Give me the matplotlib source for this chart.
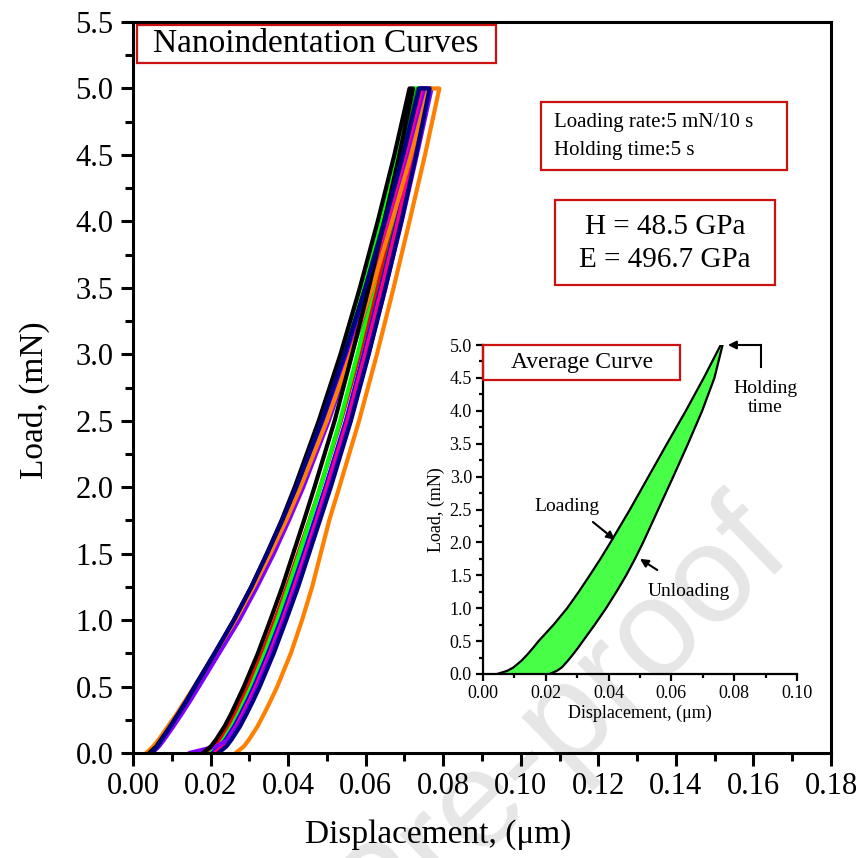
import matplotlib
matplotlib.use("Agg")
import matplotlib.pyplot as plt
from matplotlib.patches import Rectangle
from matplotlib.ticker import MultipleLocator, FormatStrFormatter

plt.rcParams["font.family"] = ["Liberation Serif", "DejaVu Serif"]

# Load levels (mN) at which displacements (um) were recorded
load_levels = [0.0, 0.05, 0.1, 0.2, 0.3, 0.4, 0.5, 0.75, 1.0, 1.25, 1.5,
               1.75, 2.0, 2.5, 3.0, 3.5, 4.0, 4.5, 5.0]

# Individual indents: loading branch and unloading branch at the same load
# levels; the top unloading value is the depth reached after the 5 s hold.
indent_colors = ["#ff0000", "#00ff00", "#008000", "#0000ff", "#ff0080",
                 "#8000ff", "#ff8000", "#000000", "#000080"]

loading_red = [0.0040, 0.0058, 0.0071, 0.0095, 0.0118, 0.0140, 0.0161, 0.0213, 0.0264, 0.0311,
               0.0353, 0.0392, 0.0428, 0.0493, 0.0551, 0.0604, 0.0654, 0.0700, 0.0742]
unloading_red = [0.0190, 0.0211, 0.0224, 0.0246, 0.0264, 0.0281, 0.0297, 0.0333, 0.0366, 0.0397,
                 0.0426, 0.0455, 0.0483, 0.0536, 0.0584, 0.0629, 0.0672, 0.0713, 0.0750]

loading_lime = [0.0040, 0.0058, 0.0071, 0.0094, 0.0117, 0.0139, 0.0159, 0.0211, 0.0261, 0.0306,
                0.0347, 0.0386, 0.0421, 0.0484, 0.0541, 0.0592, 0.0640, 0.0684, 0.0725]
unloading_lime = [0.0200, 0.0221, 0.0234, 0.0255, 0.0273, 0.0289, 0.0305, 0.0340, 0.0372, 0.0401,
                  0.0429, 0.0456, 0.0483, 0.0534, 0.0579, 0.0620, 0.0660, 0.0698, 0.0733]

loading_green = [0.0041, 0.0059, 0.0072, 0.0096, 0.0119, 0.0141, 0.0162, 0.0213, 0.0264, 0.0310,
                 0.0351, 0.0390, 0.0425, 0.0490, 0.0547, 0.0599, 0.0647, 0.0693, 0.0735]
unloading_green = [0.0215, 0.0236, 0.0249, 0.0271, 0.0289, 0.0305, 0.0321, 0.0356, 0.0388, 0.0418,
                   0.0446, 0.0473, 0.0500, 0.0551, 0.0596, 0.0638, 0.0678, 0.0713, 0.0745]

loading_blue = [0.0040, 0.0058, 0.0071, 0.0095, 0.0118, 0.0141, 0.0162, 0.0214, 0.0266, 0.0312,
                0.0354, 0.0394, 0.0430, 0.0496, 0.0555, 0.0609, 0.0658, 0.0705, 0.0748]
unloading_blue = [0.0205, 0.0226, 0.0239, 0.0261, 0.0279, 0.0296, 0.0312, 0.0348, 0.0381, 0.0411,
                  0.0440, 0.0468, 0.0496, 0.0549, 0.0595, 0.0639, 0.0681, 0.0720, 0.0757]

loading_pink = [0.0046, 0.0064, 0.0077, 0.0101, 0.0124, 0.0146, 0.0167, 0.0220, 0.0271, 0.0317,
                0.0360, 0.0399, 0.0435, 0.0500, 0.0559, 0.0612, 0.0661, 0.0708, 0.0750]
unloading_pink = [0.0210, 0.0231, 0.0244, 0.0266, 0.0284, 0.0301, 0.0317, 0.0353, 0.0386, 0.0416,
                  0.0445, 0.0473, 0.0500, 0.0553, 0.0599, 0.0642, 0.0683, 0.0722, 0.0758]

loading_purple = [0.0049, 0.0067, 0.0080, 0.0104, 0.0127, 0.0149, 0.0170, 0.0222, 0.0274, 0.0320,
                  0.0363, 0.0402, 0.0439, 0.0505, 0.0563, 0.0617, 0.0667, 0.0713, 0.0756]
unloading_purple = [0.0145, 0.0215, 0.0245, 0.0270, 0.0289, 0.0306, 0.0322, 0.0358, 0.0391, 0.0422,
                    0.0451, 0.0479, 0.0507, 0.0560, 0.0607, 0.0651, 0.0693, 0.0732, 0.0770]

loading_orange = [0.0034, 0.0052, 0.0066, 0.0090, 0.0114, 0.0136, 0.0158, 0.0211, 0.0264, 0.0311,
                  0.0354, 0.0395, 0.0432, 0.0500, 0.0561, 0.0617, 0.0668, 0.0717, 0.0762]
unloading_orange = [0.0265, 0.0286, 0.0299, 0.0321, 0.0339, 0.0356, 0.0372, 0.0407, 0.0436, 0.0462,
                    0.0484, 0.0506, 0.0532, 0.0583, 0.0629, 0.0672, 0.0713, 0.0753, 0.0790]

loading_black = [0.0042, 0.0060, 0.0072, 0.0096, 0.0118, 0.0140, 0.0160, 0.0211, 0.0260, 0.0305,
                 0.0345, 0.0383, 0.0417, 0.0479, 0.0535, 0.0585, 0.0631, 0.0674, 0.0713]
unloading_black = [0.0180, 0.0201, 0.0214, 0.0236, 0.0254, 0.0270, 0.0286, 0.0322, 0.0354, 0.0385,
                   0.0413, 0.0441, 0.0468, 0.0520, 0.0565, 0.0608, 0.0648, 0.0687, 0.0722]

loading_navy = [0.0048, 0.0063, 0.0074, 0.0096, 0.0118, 0.0139, 0.0159, 0.0210, 0.0260, 0.0305,
                0.0346, 0.0385, 0.0421, 0.0486, 0.0545, 0.0599, 0.0649, 0.0696, 0.0738]
unloading_navy = [0.0220, 0.0241, 0.0254, 0.0276, 0.0294, 0.0311, 0.0327, 0.0363, 0.0395, 0.0426,
                  0.0454, 0.0482, 0.0510, 0.0562, 0.0608, 0.0651, 0.0692, 0.0730, 0.0765]

loading_branches = [loading_red, loading_lime, loading_green, loading_blue, loading_pink,
                    loading_purple, loading_orange, loading_black, loading_navy]
unloading_branches = [unloading_red, unloading_lime, unloading_green, unloading_blue, unloading_pink,
                      unloading_purple, unloading_orange, unloading_black, unloading_navy]

# Average curve for the inset
avg_loading = [0.0045, 0.0078, 0.0097, 0.0122, 0.0142, 0.0160, 0.0177, 0.0225, 0.0268, 0.0305,
               0.0340, 0.0374, 0.0406, 0.0468, 0.0527, 0.0586, 0.0646, 0.0703, 0.0757]
avg_unloading = [0.0212, 0.0236, 0.0251, 0.0270, 0.0287, 0.0303, 0.0318, 0.0356, 0.0392, 0.0425,
                 0.0456, 0.0484, 0.0510, 0.0558, 0.0606, 0.0653, 0.0698, 0.0737, 0.0763]

main_xticks = [0.00, 0.02, 0.04, 0.06, 0.08, 0.10, 0.12, 0.14, 0.16, 0.18]
main_yticks = [0.0, 0.5, 1.0, 1.5, 2.0, 2.5, 3.0, 3.5, 4.0, 4.5, 5.0, 5.5]
inset_xticks = [0.00, 0.02, 0.04, 0.06, 0.08, 0.10]
inset_yticks = [0.0, 0.5, 1.0, 1.5, 2.0, 2.5, 3.0, 3.5, 4.0, 4.5, 5.0]

W = H = 858
BOX_RED = "#cc1111"


def fx(px):
    return px / W


def fy(py):
    return 1 - py / H


fig = plt.figure(figsize=(8.58, 8.58), dpi=100)

# ---------------- main axes ----------------
ax = fig.add_axes([fx(133), fy(753), fx(831) - fx(133), fy(22) - fy(753)])
for lo, un, c in zip(loading_branches, unloading_branches, indent_colors):
    xs = list(lo) + list(un[::-1])
    ys = list(load_levels) + list(load_levels[::-1])
    ax.plot(xs, ys, color=c, lw=3.0, solid_joinstyle="round", solid_capstyle="round")

ax.set_xlim(0, 0.18)
ax.set_ylim(0, 5.5)
ax.set_xticks(main_xticks)
ax.set_yticks(main_yticks)
ax.xaxis.set_minor_locator(MultipleLocator(0.01))
ax.yaxis.set_minor_locator(MultipleLocator(0.25))
ax.xaxis.set_major_formatter(FormatStrFormatter("%.2f"))
ax.yaxis.set_major_formatter(FormatStrFormatter("%.1f"))
ax.tick_params(which="major", direction="out", length=9, width=2.2, labelsize=22, pad=5)
ax.tick_params(which="minor", direction="out", length=5.5, width=2.2)
for s in ax.spines.values():
    s.set_linewidth(2.2)
ax.set_xlabel("Displacement, (μm)", fontsize=24)
ax.set_ylabel("Load, (mN)", fontsize=24)
ax.xaxis.set_label_coords((438 - 133) / 698, -(819 - 753) / 731)
ax.yaxis.set_label_coords(-(133 - 50) / 698, (753 - 400) / 731)


# annotation boxes on the main axes (figure coordinates)
def fig_box(x0, y0, x1, y1):
    fig.patches.append(Rectangle((fx(x0), fy(y1)), fx(x1) - fx(x0), fy(y0) - fy(y1),
                                 transform=fig.transFigure, fill=False,
                                 edgecolor=BOX_RED, lw=1.6, zorder=5))


fig_box(137, 25, 496, 63)
fig.text(fx(316), fy(44), "Nanoindentation Curves", fontsize=24, ha="center", va="center")

fig_box(541, 102, 787, 170)
fig.text(fx(554), fy(123), "Loading rate:5 mN/10 s", fontsize=15, ha="left", va="center")
fig.text(fx(554), fy(150), "Holding time:5 s", fontsize=15, ha="left", va="center")

fig_box(555, 200, 775, 285)
fig.text(fx(665), fy(227), "H = 48.5 GPa", fontsize=21, ha="center", va="center")
fig.text(fx(665), fy(260), "E = 496.7 GPa", fontsize=21, ha="center", va="center")

# ---------------- inset ----------------
axin = fig.add_axes([fx(483), fy(674), fx(797) - fx(483), fy(345) - fy(674)])
axin.set_facecolor("none")
axin.fill_betweenx(load_levels, avg_loading, avg_unloading, color="#47ff47", lw=0)
axin.plot(avg_loading, load_levels, color="k", lw=1.6, solid_joinstyle="round")
axin.plot(avg_unloading, load_levels, color="k", lw=1.6, solid_joinstyle="round")
axin.set_xlim(0, 0.10)
axin.set_ylim(0, 5.0)
axin.set_xticks(inset_xticks)
axin.set_yticks(inset_yticks)
axin.xaxis.set_minor_locator(MultipleLocator(0.01))
axin.yaxis.set_minor_locator(MultipleLocator(0.25))
axin.xaxis.set_major_formatter(FormatStrFormatter("%.2f"))
axin.yaxis.set_major_formatter(FormatStrFormatter("%.1f"))
axin.tick_params(which="major", direction="out", length=5, width=1.6, labelsize=13, pad=3)
axin.tick_params(which="minor", direction="out", length=3, width=1.6)
axin.spines["top"].set_visible(False)
axin.spines["right"].set_visible(False)
for s in ("left", "bottom"):
    axin.spines[s].set_linewidth(1.6)
axin.set_xlabel("Displacement, (μm)", fontsize=13, labelpad=2)
axin.set_ylabel("Load, (mN)", fontsize=13, labelpad=3)

axin.add_patch(Rectangle((0.0, 4.47), 0.0628, 0.53, fill=False, edgecolor=BOX_RED,
                         lw=1.6, clip_on=False, zorder=5))
axin.text(0.0314, 4.735, "Average Curve", fontsize=17, ha="center", va="center")

axin.plot([0.0885, 0.0885], [4.67, 5.0], color="k", lw=1.5, clip_on=False)
axin.annotate("", xy=(0.0780, 5.0), xytext=(0.0885, 5.0),
              arrowprops=dict(arrowstyle="-|>", lw=1.5, color="k", mutation_scale=12,
                              shrinkA=0, shrinkB=0), annotation_clip=False)
axin.text(0.0898, 4.2, "Holding\ntime", fontsize=14, ha="center", va="center",
          linespacing=1.15)

axin.text(0.0268, 2.54, "Loading", fontsize=14, ha="center", va="center")
axin.annotate("", xy=(0.0420, 2.04), xytext=(0.0350, 2.31),
              arrowprops=dict(arrowstyle="-|>", lw=1.5, color="k", mutation_scale=12,
                              shrinkA=0, shrinkB=0))
axin.text(0.0655, 1.25, "Unloading", fontsize=14, ha="center", va="center")
axin.annotate("", xy=(0.0500, 1.75), xytext=(0.0555, 1.58),
              arrowprops=dict(arrowstyle="-|>", lw=1.5, color="k", mutation_scale=12,
                              shrinkA=0, shrinkB=0))

# journal watermark
fig.text(fx(792), fy(548), "Pre-proof", fontsize=100, family="Liberation Sans",
         color="black", alpha=0.1, rotation=44, rotation_mode="anchor",
         ha="right", va="baseline", zorder=20)

fig.savefig("out.png", dpi=100)
